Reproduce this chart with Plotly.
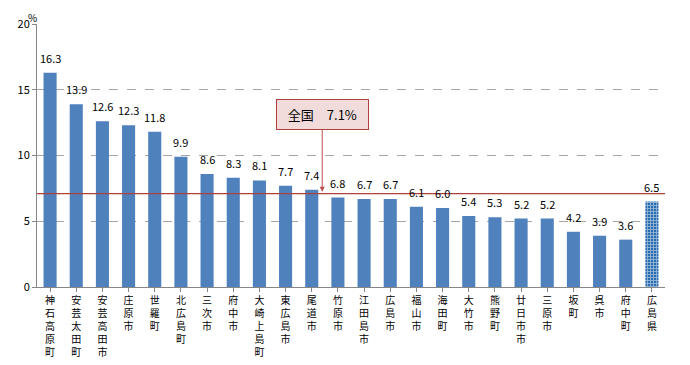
import plotly.graph_objects as go

categories = ["神石高原町", "安芸太田町", "安芸高田市", "庄原市", "世羅町", "北広島町", "三次市",
              "府中市", "大崎上島町", "東広島市", "尾道市", "竹原市", "江田島市", "広島市",
              "福山市", "海田町", "大竹市", "熊野町", "廿日市市", "三原市", "坂町", "呉市",
              "府中町", "広島県"]
values = [16.3, 13.9, 12.6, 12.3, 11.8, 9.9, 8.6, 8.3, 8.1, 7.7, 7.4, 6.8, 6.7, 6.7,
          6.1, 6.0, 5.4, 5.3, 5.2, 5.2, 4.2, 3.9, 3.6, 6.5]
national = 7.1
national_label = "&nbsp;&nbsp;全国　7.1%&nbsp;&nbsp;"
y_ticks = [0, 5, 10, 15, 20]

font_family = "Noto Sans CJK JP, DejaVu Sans, sans-serif"
tick_text = ["<br>".join(list(c)) for c in categories]

n = len(categories)
xs = list(range(n))

fig = go.Figure()
fig.add_trace(go.Bar(
    x=xs[:-1], y=values[:-1], width=0.5,
    marker=dict(color="#4F81BD", line=dict(width=0)),
    hoverinfo="skip",
))
fig.add_trace(go.Bar(
    x=xs[-1:], y=values[-1:], width=0.5,
    marker=dict(color="#2B6CB0", line=dict(width=0),
                pattern=dict(shape="+", fgcolor="#FFFFFF", bgcolor="#2B6CB0",
                             size=3, solidity=0.5, fillmode="overlay")),
    hoverinfo="skip",
))

for x, v in zip(xs, values):
    fig.add_annotation(x=x, y=v, xref="x", yref="y", text=f"{v:.1f}", showarrow=False,
                       yanchor="bottom", yshift=5,
                       font=dict(size=11, color="#000000", family=font_family))

fig.add_shape(type="line", xref="paper", x0=0, x1=1, yref="y", y0=national, y1=national,
              line=dict(color="#B0403C", width=1.2))

fig.add_annotation(
    x=10.4, y=national + 0.15, xref="x", yref="y",
    ax=10.4, ay=13.1, axref="x", ayref="y",
    text=national_label, showarrow=True,
    arrowhead=2, arrowsize=1, arrowwidth=1, arrowcolor="#C0504D",
    font=dict(size=13, color="#000000", family=font_family),
    bgcolor="#F2DCDB", bordercolor="#B0403C", borderwidth=1, borderpad=5,
)

fig.add_annotation(x=0, y=1.0, xref="paper", yref="paper", xanchor="center", yanchor="top",
                   xshift=-5, yshift=16, text="%", showarrow=False,
                   font=dict(size=10, color="#000000", family=font_family))

fig.update_layout(
    width=682, height=357,
    margin=dict(l=29, r=25, t=16, b=78),
    plot_bgcolor="#FFFFFF", paper_bgcolor="#FFFFFF",
    showlegend=False, barmode="overlay",
    font=dict(family=font_family, size=12, color="#000000"),
)
fig.update_xaxes(
    range=[-0.5, n - 0.5], automargin=False,
    tickmode="array", tickvals=xs, ticktext=tick_text,
    tickangle=0, ticks="outside", tickson="boundaries", ticklen=4, tickcolor="#868686",
    showline=True, linecolor="#868686", linewidth=1,
    showgrid=False, tickfont=dict(size=10, family=font_family),
)
fig.update_yaxes(
    range=[0, 20], tickvals=y_ticks, automargin=False,
    showline=True, linecolor="#868686", linewidth=1,
    ticks="outside", ticklen=4, tickcolor="#868686",
    showgrid=True, gridcolor="#A6A6A6", griddash="dash", gridwidth=1,
    zeroline=False, tickfont=dict(size=11, family=font_family),
)

fig.write_html("out.html")
